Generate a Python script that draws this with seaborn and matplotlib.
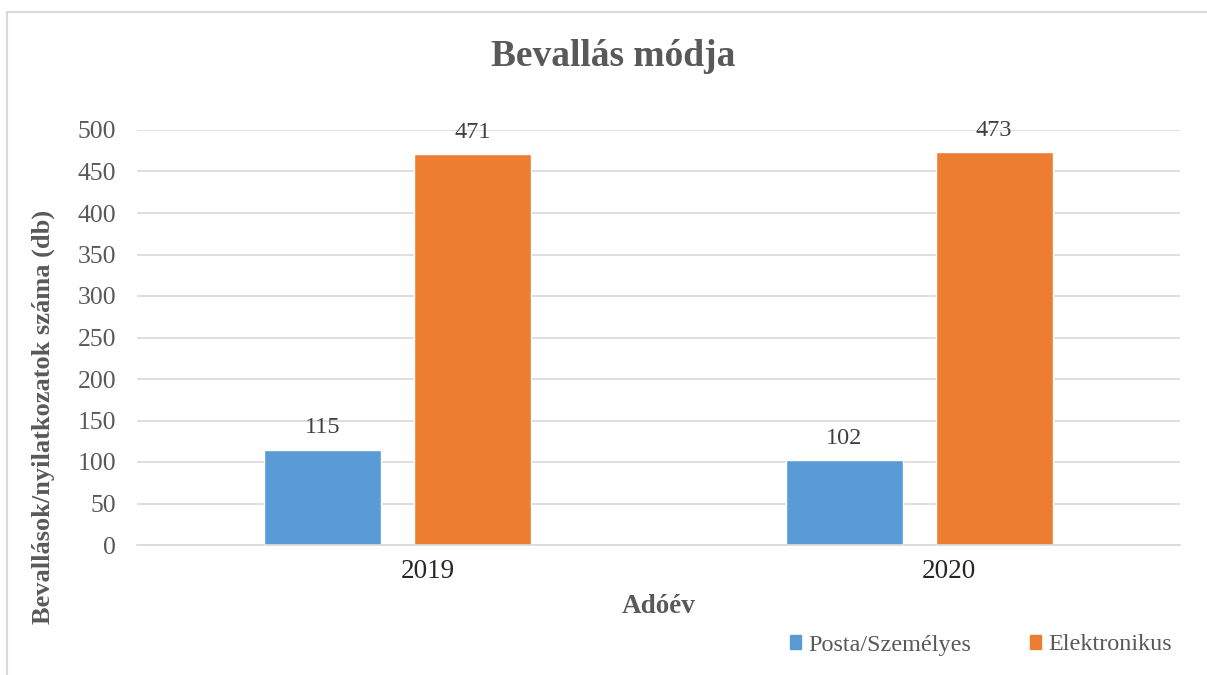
import pandas as pd
import seaborn as sns
import matplotlib.pyplot as plt
from matplotlib.patches import Rectangle
from matplotlib.transforms import ScaledTranslation

years = ["2019", "2020"]
modes = ["Posta/Személyes", "Elektronikus"]
posta = [115, 102]
elektronikus = [471, 473]
colors = ["#5B9BD5", "#ED7D31"]

df = pd.DataFrame({
    "Adóév": years * 2,
    "mode": [modes[0]] * 2 + [modes[1]] * 2,
    "db": posta + elektronikus,
})

sns.set_theme(style="white")
plt.rcParams["font.family"] = ["Liberation Serif", "DejaVu Serif"]
txt = "#595959"

fig = plt.figure(figsize=(12.07, 6.75), dpi=100)
ax = fig.add_axes([137 / 1207, 1 - 545 / 675, (1180 - 137) / 1207, (545 - 130) / 675])

sns.barplot(data=df, x="Adóév", y="db", hue="mode", order=years, hue_order=modes,
            palette=colors, saturation=1, width=0.575, gap=0.22, ax=ax, legend=False)

for cont in ax.containers:
    ax.bar_label(cont, padding=8, fontsize=17.5, color="#404040")

ax.set_ylim(0, 500)
ax.set_xlim(-0.5, 1.5)
ax.set_yticks(range(0, 501, 50))
ax.yaxis.grid(True, color="#D9D9D9", linewidth=1.2)
ax.set_axisbelow(True)
for s in ["top", "right", "left"]:
    ax.spines[s].set_visible(False)
ax.spines["bottom"].set_color("#D9D9D9")
ax.spines["bottom"].set_linewidth(1.2)
ax.tick_params(axis="y", labelsize=18.5, labelcolor=txt, length=0, pad=15)
ax.tick_params(axis="x", labelsize=19.5, labelcolor="#262626", length=0, pad=10)
# year labels sit a bit right of the group centre in the original
for lbl in ax.get_xticklabels():
    lbl.set_transform(lbl.get_transform() + ScaledTranslation(0.3, 0, fig.dpi_scale_trans))

ax.set_xlabel("Adóév", fontsize=19.5, fontweight="bold", color=txt, labelpad=7)
ax.set_ylabel("")
fig.text(43 / 1207, 1 - 417 / 675, "Bevallások/nyilatkozatok száma (db)", rotation=90,
         ha="center", va="center", fontsize=19, fontweight="bold", color=txt)
fig.text(613 / 1207, 1 - 56 / 675, "Bevallás módja", ha="center", va="center",
         fontsize=27, fontweight="bold", color=txt)

handles = [Rectangle((0, 0), 1, 1, color=c) for c in colors]
fig.legend(handles, modes, loc="center", bbox_to_anchor=(981 / 1207, 1 - 645 / 675),
           ncol=2, frameon=False, fontsize=17.4, labelcolor=txt, handlelength=0.47,
           handleheight=0.47, handletextpad=0.3, columnspacing=2.4)

fig.patches.append(Rectangle((7 / 1207, -0.05), 1.1, 1 - 12 / 675 + 0.05,
                             transform=fig.transFigure, fill=False,
                             edgecolor="#D9D9D9", linewidth=1.5))

fig.savefig("out.png", dpi=100, facecolor="white")
